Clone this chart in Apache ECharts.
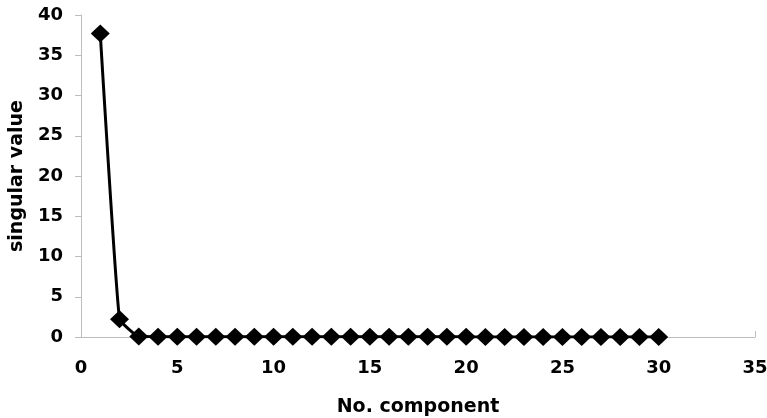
<!DOCTYPE html>
<html>
<head>
    <meta charset="utf-8">
    <title>singular value</title>
    <script src="https://cdn.jsdelivr.net/npm/echarts@6/dist/echarts.min.js"></script>
</head>
<body style="margin:0">
    <div id="main" style="width:767px;height:418px;"></div>
<script>
    // 数据
    var components = [1, 2, 3, 4, 5, 6, 7, 8, 9, 10, 11, 12, 13, 14, 15,
        16, 17, 18, 19, 20, 21, 22, 23, 24, 25, 26, 27, 28, 29, 30];
    var singularValues = [37.7, 2.2, 0.05, 0.04, 0.04, 0.03, 0.03, 0.03, 0.03, 0.03,
        0.02, 0.02, 0.02, 0.02, 0.02, 0.02, 0.02, 0.02, 0.02, 0.02,
        0.01, 0.01, 0.01, 0.01, 0.01, 0.01, 0.01, 0.01, 0.01, 0.01];

    var chart = echarts.init(document.getElementById('main'));
    var font = 'DejaVu Sans, sans-serif';

    var pts = [];
    for (var i = 0; i < components.length; i++) {
        pts.push([components[i], singularValues[i]]);
    }

    var option = {
        backgroundColor: '#fff',
        animation: false,
        grid: { left: 81, right: 12, top: 15, bottom: 81, outerBoundsMode: 'none', containLabel: false },
        xAxis: {
            type: 'value',
            min: 0, max: 35, interval: 5,
            name: 'No. component',
            nameLocation: 'middle',
            nameGap: 61,
            nameTextStyle: { color: '#000', fontSize: 19, fontWeight: 'bold', fontFamily: font },
            axisLine: { lineStyle: { color: '#bdbdbd', width: 1 } },
            axisTick: { show: true, inside: true, length: 6, lineStyle: { color: '#bdbdbd' } },
            axisLabel: { color: '#000', fontSize: 18, fontWeight: 'bold', fontFamily: font, margin: 22 },
            splitLine: { show: false }
        },
        yAxis: {
            type: 'value',
            min: 0, max: 40, interval: 5,
            name: 'singular value',
            nameLocation: 'middle',
            nameGap: 53,
            nameTextStyle: { color: '#000', fontSize: 19, fontWeight: 'bold', fontFamily: font },
            axisLine: { show: true, lineStyle: { color: '#bdbdbd', width: 1 } },
            axisTick: { show: true, length: 6, lineStyle: { color: '#bdbdbd' } },
            axisLabel: { color: '#000', fontSize: 18, fontWeight: 'bold', fontFamily: font, margin: 18 },
            splitLine: { show: false }
        },
        series: [{
            type: 'line',
            data: pts,
            smooth: 0.1,
            symbol: 'diamond',
            symbolSize: [19, 18],
            itemStyle: { color: '#000' },
            lineStyle: { color: '#000', width: 3 }
        }]
    };
    chart.setOption(option);
</script>
</body>
</html>
